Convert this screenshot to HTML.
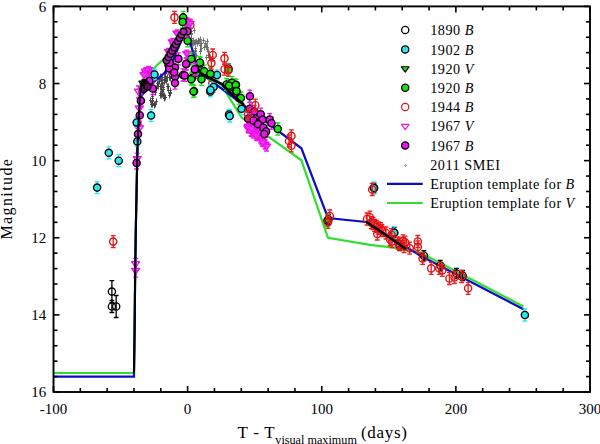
<!DOCTYPE html>
<html><head><meta charset="utf-8"><style>
html,body{margin:0;padding:0;background:#fff;}
svg{display:block;}
text{font-family:"Liberation Serif",serif;fill:#000;}
.t{font-size:15px;}
.ax{font-size:17px;}
.lg{font-size:14.2px;letter-spacing:0.55px;}
</style></head><body>
<svg width="600" height="444" viewBox="0 0 600 444">
<path d="M165.0 70.5h3.0M166.5 67.5v6.0" stroke="#404040" stroke-width="0.9"/>
<path d="M163.0 79.5h3.0M164.5 76.5v6.0" stroke="#404040" stroke-width="0.9"/>
<path d="M161.0 94.5h3.0M162.5 91.5v6.0" stroke="#404040" stroke-width="0.9"/>
<path d="M164.0 97.5h3.0M165.5 94.5v6.0" stroke="#404040" stroke-width="0.9"/>
<path d="M163.0 80.5h3.0M164.5 77.5v6.0" stroke="#404040" stroke-width="0.9"/>
<path d="M168.0 77.5h3.0M169.5 74.5v6.0" stroke="#404040" stroke-width="0.9"/>
<path d="M159.0 93.5h3.0M160.5 90.5v6.0" stroke="#404040" stroke-width="0.9"/>
<path d="M156.0 86.5h3.0M157.5 83.5v6.0" stroke="#404040" stroke-width="0.9"/>
<path d="M165.0 80.5h3.0M166.5 77.5v6.0" stroke="#404040" stroke-width="0.9"/>
<path d="M165.0 81.5h3.0M166.5 78.5v6.0" stroke="#404040" stroke-width="0.9"/>
<path d="M159.0 86.5h3.0M160.5 83.5v6.0" stroke="#404040" stroke-width="0.9"/>
<path d="M161.0 77.5h3.0M162.5 74.5v6.0" stroke="#404040" stroke-width="0.9"/>
<path d="M167.0 90.5h3.0M168.5 87.5v6.0" stroke="#404040" stroke-width="0.9"/>
<path d="M157.0 86.5h3.0M158.5 83.5v6.0" stroke="#404040" stroke-width="0.9"/>
<path d="M162.0 95.5h3.0M163.5 92.5v6.0" stroke="#404040" stroke-width="0.9"/>
<path d="M166.0 77.5h3.0M167.5 74.5v6.0" stroke="#404040" stroke-width="0.9"/>
<path d="M161.0 91.5h3.0M162.5 88.5v6.0" stroke="#404040" stroke-width="0.9"/>
<path d="M156.0 83.5h3.0M157.5 80.5v6.0" stroke="#404040" stroke-width="0.9"/>
<path d="M154.0 89.5h3.0M155.5 86.5v6.0" stroke="#404040" stroke-width="0.9"/>
<path d="M167.0 86.5h3.0M168.5 83.5v6.0" stroke="#404040" stroke-width="0.9"/>
<path d="M169.0 78.5h3.0M170.5 75.5v6.0" stroke="#404040" stroke-width="0.9"/>
<path d="M166.0 86.5h3.0M167.5 83.5v6.0" stroke="#404040" stroke-width="0.9"/>
<path d="M163.0 82.5h3.0M164.5 79.5v6.0" stroke="#404040" stroke-width="0.9"/>
<path d="M162.0 89.5h3.0M163.5 86.5v6.0" stroke="#404040" stroke-width="0.9"/>
<path d="M154.0 90.5h3.0M155.5 87.5v6.0" stroke="#404040" stroke-width="0.9"/>
<path d="M168.0 77.5h3.0M169.5 74.5v6.0" stroke="#404040" stroke-width="0.9"/>
<path d="M160.0 89.5h3.0M161.5 86.5v6.0" stroke="#404040" stroke-width="0.9"/>
<path d="M154.0 92.5h3.0M155.5 89.5v6.0" stroke="#404040" stroke-width="0.9"/>
<path d="M160.0 95.5h3.0M161.5 92.5v6.0" stroke="#404040" stroke-width="0.9"/>
<path d="M163.0 95.5h3.0M164.5 92.5v6.0" stroke="#404040" stroke-width="0.9"/>
<path d="M168.0 95.5h3.0M169.5 92.5v6.0" stroke="#404040" stroke-width="0.9"/>
<path d="M158.0 81.5h3.0M159.5 78.5v6.0" stroke="#404040" stroke-width="0.9"/>
<path d="M159.0 95.5h3.0M160.5 92.5v6.0" stroke="#404040" stroke-width="0.9"/>
<path d="M157.0 83.5h3.0M158.5 80.5v6.0" stroke="#404040" stroke-width="0.9"/>
<path d="M164.0 76.5h3.0M165.5 73.5v6.0" stroke="#404040" stroke-width="0.9"/>
<path d="M160.0 86.5h3.0M161.5 83.5v6.0" stroke="#404040" stroke-width="0.9"/>
<path d="M162.0 87.5h3.0M163.5 84.5v6.0" stroke="#404040" stroke-width="0.9"/>
<path d="M165.0 70.5h3.0M166.5 67.5v6.0" stroke="#404040" stroke-width="0.9"/>
<path d="M169.0 92.5h3.0M170.5 89.5v6.0" stroke="#404040" stroke-width="0.9"/>
<path d="M169.0 93.5h3.0M170.5 90.5v6.0" stroke="#404040" stroke-width="0.9"/>
<path d="M160.0 80.5h3.0M161.5 77.5v6.0" stroke="#404040" stroke-width="0.9"/>
<path d="M155.0 88.5h3.0M156.5 85.5v6.0" stroke="#404040" stroke-width="0.9"/>
<path d="M164.0 73.5h3.0M165.5 70.5v6.0" stroke="#404040" stroke-width="0.9"/>
<path d="M158.0 79.5h3.0M159.5 76.5v6.0" stroke="#404040" stroke-width="0.9"/>
<path d="M161.0 83.5h3.0M162.5 80.5v6.0" stroke="#404040" stroke-width="0.9"/>
<path d="M159.0 76.5h3.0M160.5 73.5v6.0" stroke="#404040" stroke-width="0.9"/>
<path d="M168.0 73.5h3.0M169.5 70.5v6.0" stroke="#404040" stroke-width="0.9"/>
<path d="M163.0 73.5h3.0M164.5 70.5v6.0" stroke="#404040" stroke-width="0.9"/>
<path d="M163.0 98.5h3.0M164.5 95.5v6.0" stroke="#404040" stroke-width="0.9"/>
<path d="M169.0 90.5h3.0M170.5 87.5v6.0" stroke="#404040" stroke-width="0.9"/>
<path d="M151.0 100.5h3.0M152.5 97.5v6.0" stroke="#404040" stroke-width="0.9"/>
<path d="M150.0 104.5h3.0M151.5 101.5v6.0" stroke="#404040" stroke-width="0.9"/>
<path d="M153.0 104.5h3.0M154.5 101.5v6.0" stroke="#404040" stroke-width="0.9"/>
<path d="M151.0 98.5h3.0M152.5 95.5v6.0" stroke="#404040" stroke-width="0.9"/>
<path d="M151.0 101.5h3.0M152.5 98.5v6.0" stroke="#404040" stroke-width="0.9"/>
<path d="M151.0 96.5h3.0M152.5 93.5v6.0" stroke="#404040" stroke-width="0.9"/>
<path d="M151.0 103.5h3.0M152.5 100.5v6.0" stroke="#404040" stroke-width="0.9"/>
<path d="M153.0 105.5h3.0M154.5 102.5v6.0" stroke="#404040" stroke-width="0.9"/>
<path d="M155.0 101.5h3.0M156.5 98.5v6.0" stroke="#404040" stroke-width="0.9"/>
<path d="M154.0 104.5h3.0M155.5 101.5v6.0" stroke="#404040" stroke-width="0.9"/>
<path d="M199.0 51.5h3.0M200.5 48.5v6.0" stroke="#6a6a6a" stroke-width="0.9"/>
<path d="M197.0 40.5h3.0M198.5 37.5v6.0" stroke="#6a6a6a" stroke-width="0.9"/>
<path d="M191.0 51.5h3.0M192.5 48.5v6.0" stroke="#6a6a6a" stroke-width="0.9"/>
<path d="M189.0 29.5h3.0M190.5 26.5v6.0" stroke="#6a6a6a" stroke-width="0.9"/>
<path d="M199.0 51.5h3.0M200.5 48.5v6.0" stroke="#6a6a6a" stroke-width="0.9"/>
<path d="M192.0 43.5h3.0M193.5 40.5v6.0" stroke="#6a6a6a" stroke-width="0.9"/>
<path d="M189.0 24.5h3.0M190.5 21.5v6.0" stroke="#6a6a6a" stroke-width="0.9"/>
<path d="M194.0 56.5h3.0M195.5 53.5v6.0" stroke="#6a6a6a" stroke-width="0.9"/>
<path d="M193.0 54.5h3.0M194.5 51.5v6.0" stroke="#6a6a6a" stroke-width="0.9"/>
<path d="M190.0 34.5h3.0M191.5 31.5v6.0" stroke="#6a6a6a" stroke-width="0.9"/>
<path d="M190.0 44.5h3.0M191.5 41.5v6.0" stroke="#6a6a6a" stroke-width="0.9"/>
<path d="M190.0 38.5h3.0M191.5 35.5v6.0" stroke="#6a6a6a" stroke-width="0.9"/>
<path d="M192.0 40.5h3.0M193.5 37.5v6.0" stroke="#6a6a6a" stroke-width="0.9"/>
<path d="M195.0 55.5h3.0M196.5 52.5v6.0" stroke="#6a6a6a" stroke-width="0.9"/>
<path d="M192.0 55.5h3.0M193.5 52.5v6.0" stroke="#6a6a6a" stroke-width="0.9"/>
<path d="M194.0 42.5h3.0M195.5 39.5v6.0" stroke="#6a6a6a" stroke-width="0.9"/>
<path d="M193.0 30.5h3.0M194.5 27.5v6.0" stroke="#6a6a6a" stroke-width="0.9"/>
<path d="M189.0 40.5h3.0M190.5 37.5v6.0" stroke="#6a6a6a" stroke-width="0.9"/>
<path d="M196.0 43.5h3.0M197.5 40.5v6.0" stroke="#6a6a6a" stroke-width="0.9"/>
<path d="M191.0 42.5h3.0M192.5 39.5v6.0" stroke="#6a6a6a" stroke-width="0.9"/>
<path d="M194.0 51.5h3.0M195.5 48.5v6.0" stroke="#6a6a6a" stroke-width="0.9"/>
<path d="M188.0 43.5h3.0M189.5 40.5v6.0" stroke="#6a6a6a" stroke-width="0.9"/>
<path d="M190.0 33.5h3.0M191.5 30.5v6.0" stroke="#6a6a6a" stroke-width="0.9"/>
<path d="M197.0 41.5h3.0M198.5 38.5v6.0" stroke="#6a6a6a" stroke-width="0.9"/>
<path d="M194.0 50.5h3.0M195.5 47.5v6.0" stroke="#6a6a6a" stroke-width="0.9"/>
<path d="M199.0 39.5h3.0M200.5 36.5v6.0" stroke="#6a6a6a" stroke-width="0.9"/>
<path d="M195.0 41.5h3.0M196.5 38.5v6.0" stroke="#6a6a6a" stroke-width="0.9"/>
<path d="M194.0 48.5h3.0M195.5 45.5v6.0" stroke="#6a6a6a" stroke-width="0.9"/>
<path d="M193.0 42.5h3.0M194.5 39.5v6.0" stroke="#6a6a6a" stroke-width="0.9"/>
<path d="M193.0 56.5h3.0M194.5 53.5v6.0" stroke="#6a6a6a" stroke-width="0.9"/>
<path d="M207.0 55.5h3.0M208.5 52.5v6.0" stroke="#6a6a6a" stroke-width="0.9"/>
<path d="M205.0 57.5h3.0M206.5 54.5v6.0" stroke="#6a6a6a" stroke-width="0.9"/>
<path d="M198.0 41.5h3.0M199.5 38.5v6.0" stroke="#6a6a6a" stroke-width="0.9"/>
<path d="M208.0 56.5h3.0M209.5 53.5v6.0" stroke="#6a6a6a" stroke-width="0.9"/>
<path d="M209.0 57.5h3.0M210.5 54.5v6.0" stroke="#6a6a6a" stroke-width="0.9"/>
<path d="M203.0 47.5h3.0M204.5 44.5v6.0" stroke="#6a6a6a" stroke-width="0.9"/>
<path d="M199.0 45.5h3.0M200.5 42.5v6.0" stroke="#6a6a6a" stroke-width="0.9"/>
<path d="M204.0 43.5h3.0M205.5 40.5v6.0" stroke="#6a6a6a" stroke-width="0.9"/>
<path d="M200.0 43.5h3.0M201.5 40.5v6.0" stroke="#6a6a6a" stroke-width="0.9"/>
<path d="M205.0 46.5h3.0M206.5 43.5v6.0" stroke="#6a6a6a" stroke-width="0.9"/>
<path d="M206.0 47.5h3.0M207.5 44.5v6.0" stroke="#6a6a6a" stroke-width="0.9"/>
<path d="M208.0 57.5h3.0M209.5 54.5v6.0" stroke="#6a6a6a" stroke-width="0.9"/>
<path d="M202.0 40.5h3.0M203.5 37.5v6.0" stroke="#6a6a6a" stroke-width="0.9"/>
<path d="M206.0 41.5h3.0M207.5 38.5v6.0" stroke="#6a6a6a" stroke-width="0.9"/>
<path d="M200.0 48.5h3.0M201.5 45.5v6.0" stroke="#6a6a6a" stroke-width="0.9"/>
<path d="M206.0 49.5h3.0M207.5 46.5v6.0" stroke="#6a6a6a" stroke-width="0.9"/>
<path d="M207.0 51.5h3.0M208.5 48.5v6.0" stroke="#6a6a6a" stroke-width="0.9"/>
<path d="M151.0 104.5h3.0M152.5 101.5v6.0" stroke="#404040" stroke-width="0.9"/>
<path d="M149.0 100.5h3.0M150.5 97.5v6.0" stroke="#404040" stroke-width="0.9"/>
<polyline points="53.5,373.0 134.0,373.0 134.0,373.0 134.6,330.0 135.2,270.0 135.8,230.0 136.6,190.0 137.4,150.0 138.3,128.0 139.2,110.0 139.8,100.0 140.6,82.0 152.5,69.5 168.0,55.0 185.0,26.4 196.5,63.0 222.0,85.8 241.5,117.5 301.4,160.3 328.0,237.8 370.0,244.8 396.0,247.8 420.0,252.5 523.5,306.5" fill="none" stroke="#30e030" stroke-width="2.2" stroke-linejoin="miter" />
<polyline points="53.5,376.6 134.0,376.6 134.0,373.0 134.6,330.0 135.2,270.0 135.8,230.0 136.6,190.0 137.4,150.0 138.3,128.0 139.2,110.0 140.5,100.0 142.0,95.0 154.5,81.5 169.5,68.5 186.5,28.2 198.0,71.0 301.4,148.3 328.0,218.0 366.0,222.0 420.0,255.5 524.0,309.6" fill="none" stroke="#0c0cc8" stroke-width="2.2" stroke-linejoin="miter" />
<path d="M190.3 19.3V31.3M187.9 19.3h4.8M187.9 31.3h4.8" stroke="#f01c1c" stroke-width="1.3" fill="none"/>
<circle cx="190.3" cy="25.3" r="3.6" fill="none" stroke="#dc1414" stroke-width="1.4"/>
<path d="M212.3 77.4V89.4M209.9 77.4h4.8M209.9 89.4h4.8" stroke="#f01c1c" stroke-width="1.3" fill="none"/>
<circle cx="212.3" cy="83.4" r="3.6" fill="none" stroke="#dc1414" stroke-width="1.4"/>
<path d="M135.6 258.4V270.4M133.2 258.4h4.8M133.2 270.4h4.8" stroke="#ec14ec" stroke-width="1.3" fill="none"/>
<path d="M131.6 261.7H139.6L135.6 267.2Z" fill="none" stroke="#ec14ec" stroke-width="1.4" stroke-linejoin="round"/>
<path d="M135.6 265.2V277.2M133.2 265.2h4.8M133.2 277.2h4.8" stroke="#ec14ec" stroke-width="1.3" fill="none"/>
<path d="M131.6 268.5H139.6L135.6 274.0Z" fill="none" stroke="#ec14ec" stroke-width="1.4" stroke-linejoin="round"/>
<path d="M137.2 153.4V165.4M134.8 153.4h4.8M134.8 165.4h4.8" stroke="#ec14ec" stroke-width="1.3" fill="none"/>
<path d="M133.2 156.7H141.2L137.2 162.2Z" fill="none" stroke="#ec14ec" stroke-width="1.4" stroke-linejoin="round"/>
<path d="M137.6 121.0V133.0M135.2 121.0h4.8M135.2 133.0h4.8" stroke="#ec14ec" stroke-width="1.3" fill="none"/>
<path d="M133.6 124.3H141.6L137.6 129.8Z" fill="none" stroke="#ec14ec" stroke-width="1.4" stroke-linejoin="round"/>
<path d="M139.4 122.7V134.7M137.0 122.7h4.8M137.0 134.7h4.8" stroke="#ec14ec" stroke-width="1.3" fill="none"/>
<path d="M135.4 126.0H143.4L139.4 131.5Z" fill="none" stroke="#ec14ec" stroke-width="1.4" stroke-linejoin="round"/>
<path d="M139.3 102.7V114.7M136.9 102.7h4.8M136.9 114.7h4.8" stroke="#ec14ec" stroke-width="1.3" fill="none"/>
<path d="M135.3 106.0H143.3L139.3 111.5Z" fill="none" stroke="#ec14ec" stroke-width="1.4" stroke-linejoin="round"/>
<path d="M138.4 86.0V98.0M136.0 86.0h4.8M136.0 98.0h4.8" stroke="#ec14ec" stroke-width="1.3" fill="none"/>
<path d="M134.4 89.3H142.4L138.4 94.8Z" fill="none" stroke="#ec14ec" stroke-width="1.4" stroke-linejoin="round"/>
<path d="M145.5 68.0V76.0M143.1 68.0h4.8M143.1 76.0h4.8" stroke="#ec14ec" stroke-width="1.3" fill="none"/>
<path d="M141.5 69.3H149.5L145.5 74.8Z" fill="#ee3cee" stroke="#ec14ec" stroke-width="1.4" stroke-linejoin="round"/>
<path d="M148.5 66.5V74.5M146.1 66.5h4.8M146.1 74.5h4.8" stroke="#ec14ec" stroke-width="1.3" fill="none"/>
<path d="M144.5 67.8H152.5L148.5 73.3Z" fill="#ee3cee" stroke="#ec14ec" stroke-width="1.4" stroke-linejoin="round"/>
<path d="M151.5 69.5V77.5M149.1 69.5h4.8M149.1 77.5h4.8" stroke="#ec14ec" stroke-width="1.3" fill="none"/>
<path d="M147.5 70.8H155.5L151.5 76.3Z" fill="#ee3cee" stroke="#ec14ec" stroke-width="1.4" stroke-linejoin="round"/>
<path d="M147.0 72.0V80.0M144.6 72.0h4.8M144.6 80.0h4.8" stroke="#ec14ec" stroke-width="1.3" fill="none"/>
<path d="M143.0 73.3H151.0L147.0 78.8Z" fill="#ee3cee" stroke="#ec14ec" stroke-width="1.4" stroke-linejoin="round"/>
<path d="M144.0 71.5V79.5M141.6 71.5h4.8M141.6 79.5h4.8" stroke="#ec14ec" stroke-width="1.3" fill="none"/>
<path d="M140.0 72.8H148.0L144.0 78.3Z" fill="#ee3cee" stroke="#ec14ec" stroke-width="1.4" stroke-linejoin="round"/>
<path d="M177.0 30.0V38.0M174.6 30.0h4.8M174.6 38.0h4.8" stroke="#ec14ec" stroke-width="1.3" fill="none"/>
<path d="M173.0 31.3H181.0L177.0 36.8Z" fill="#ee3cee" stroke="#ec14ec" stroke-width="1.4" stroke-linejoin="round"/>
<path d="M172.2 38.6V46.6M169.8 38.6h4.8M169.8 46.6h4.8" stroke="#ec14ec" stroke-width="1.3" fill="none"/>
<path d="M168.2 39.9H176.2L172.2 45.4Z" fill="#ee3cee" stroke="#ec14ec" stroke-width="1.4" stroke-linejoin="round"/>
<path d="M174.0 42.5V50.5M171.6 42.5h4.8M171.6 50.5h4.8" stroke="#ec14ec" stroke-width="1.3" fill="none"/>
<path d="M170.0 43.8H178.0L174.0 49.3Z" fill="#ee3cee" stroke="#ec14ec" stroke-width="1.4" stroke-linejoin="round"/>
<path d="M168.5 48.3V56.3M166.1 48.3h4.8M166.1 56.3h4.8" stroke="#ec14ec" stroke-width="1.3" fill="none"/>
<path d="M164.5 49.6H172.5L168.5 55.1Z" fill="#ee3cee" stroke="#ec14ec" stroke-width="1.4" stroke-linejoin="round"/>
<path d="M186.8 50.2V58.2M184.4 50.2h4.8M184.4 58.2h4.8" stroke="#ec14ec" stroke-width="1.3" fill="none"/>
<path d="M182.8 51.5H190.8L186.8 57.0Z" fill="#ee3cee" stroke="#ec14ec" stroke-width="1.4" stroke-linejoin="round"/>
<path d="M187.0 18.0V26.0M184.6 18.0h4.8M184.6 26.0h4.8" stroke="#ec14ec" stroke-width="1.3" fill="none"/>
<path d="M183.0 19.3H191.0L187.0 24.8Z" fill="#ee3cee" stroke="#ec14ec" stroke-width="1.4" stroke-linejoin="round"/>
<path d="M190.0 20.0V28.0M187.6 20.0h4.8M187.6 28.0h4.8" stroke="#ec14ec" stroke-width="1.3" fill="none"/>
<path d="M186.0 21.3H194.0L190.0 26.8Z" fill="#ee3cee" stroke="#ec14ec" stroke-width="1.4" stroke-linejoin="round"/>
<path d="M249.3 124.2V132.2M246.9 124.2h4.8M246.9 132.2h4.8" stroke="#ec14ec" stroke-width="1.3" fill="none"/>
<path d="M245.3 125.5H253.3L249.3 131.0Z" fill="#ee3cee" stroke="#ec14ec" stroke-width="1.4" stroke-linejoin="round"/>
<path d="M250.6 120.5V128.5M248.2 120.5h4.8M248.2 128.5h4.8" stroke="#ec14ec" stroke-width="1.3" fill="none"/>
<path d="M246.6 121.7H254.6L250.6 127.3Z" fill="#ee3cee" stroke="#ec14ec" stroke-width="1.4" stroke-linejoin="round"/>
<path d="M251.8 128.0V136.0M249.4 128.0h4.8M249.4 136.0h4.8" stroke="#ec14ec" stroke-width="1.3" fill="none"/>
<path d="M247.8 129.3H255.8L251.8 134.8Z" fill="#ee3cee" stroke="#ec14ec" stroke-width="1.4" stroke-linejoin="round"/>
<path d="M257.7 127.9V135.9M255.3 127.9h4.8M255.3 135.9h4.8" stroke="#ec14ec" stroke-width="1.3" fill="none"/>
<path d="M253.7 129.1H261.7L257.7 134.7Z" fill="#ee3cee" stroke="#ec14ec" stroke-width="1.4" stroke-linejoin="round"/>
<path d="M262.5 138.1V146.1M260.1 138.1h4.8M260.1 146.1h4.8" stroke="#ec14ec" stroke-width="1.3" fill="none"/>
<path d="M258.5 139.4H266.5L262.5 144.9Z" fill="#ee3cee" stroke="#ec14ec" stroke-width="1.4" stroke-linejoin="round"/>
<path d="M253.1 122.1V130.1M250.7 122.1h4.8M250.7 130.1h4.8" stroke="#ec14ec" stroke-width="1.3" fill="none"/>
<path d="M249.1 123.4H257.1L253.1 128.9Z" fill="#ee3cee" stroke="#ec14ec" stroke-width="1.4" stroke-linejoin="round"/>
<path d="M259.5 131.7V139.7M257.1 131.7h4.8M257.1 139.7h4.8" stroke="#ec14ec" stroke-width="1.3" fill="none"/>
<path d="M255.5 133.0H263.5L259.5 138.5Z" fill="#ee3cee" stroke="#ec14ec" stroke-width="1.4" stroke-linejoin="round"/>
<path d="M248.0 124.9V132.9M245.6 124.9h4.8M245.6 132.9h4.8" stroke="#ec14ec" stroke-width="1.3" fill="none"/>
<path d="M244.0 126.1H252.0L248.0 131.7Z" fill="#ee3cee" stroke="#ec14ec" stroke-width="1.4" stroke-linejoin="round"/>
<path d="M260.6 135.0V143.0M258.2 135.0h4.8M258.2 143.0h4.8" stroke="#ec14ec" stroke-width="1.3" fill="none"/>
<path d="M256.6 136.3H264.6L260.6 141.8Z" fill="#ee3cee" stroke="#ec14ec" stroke-width="1.4" stroke-linejoin="round"/>
<path d="M251.9 120.4V128.4M249.5 120.4h4.8M249.5 128.4h4.8" stroke="#ec14ec" stroke-width="1.3" fill="none"/>
<path d="M247.9 121.7H255.9L251.9 127.2Z" fill="#ee3cee" stroke="#ec14ec" stroke-width="1.4" stroke-linejoin="round"/>
<path d="M260.9 132.7V140.7M258.5 132.7h4.8M258.5 140.7h4.8" stroke="#ec14ec" stroke-width="1.3" fill="none"/>
<path d="M256.9 134.0H264.9L260.9 139.5Z" fill="#ee3cee" stroke="#ec14ec" stroke-width="1.4" stroke-linejoin="round"/>
<path d="M251.7 121.0V129.0M249.3 121.0h4.8M249.3 129.0h4.8" stroke="#ec14ec" stroke-width="1.3" fill="none"/>
<path d="M247.7 122.3H255.7L251.7 127.8Z" fill="#ee3cee" stroke="#ec14ec" stroke-width="1.4" stroke-linejoin="round"/>
<path d="M251.4 120.6V128.6M249.0 120.6h4.8M249.0 128.6h4.8" stroke="#ec14ec" stroke-width="1.3" fill="none"/>
<path d="M247.4 121.9H255.4L251.4 127.4Z" fill="#ee3cee" stroke="#ec14ec" stroke-width="1.4" stroke-linejoin="round"/>
<path d="M256.1 130.7V138.7M253.7 130.7h4.8M253.7 138.7h4.8" stroke="#ec14ec" stroke-width="1.3" fill="none"/>
<path d="M252.1 132.0H260.1L256.1 137.5Z" fill="#ee3cee" stroke="#ec14ec" stroke-width="1.4" stroke-linejoin="round"/>
<path d="M260.0 130.5V138.5M257.6 130.5h4.8M257.6 138.5h4.8" stroke="#ec14ec" stroke-width="1.3" fill="none"/>
<path d="M256.0 131.8H264.0L260.0 137.3Z" fill="#ee3cee" stroke="#ec14ec" stroke-width="1.4" stroke-linejoin="round"/>
<path d="M251.7 127.9V135.9M249.3 127.9h4.8M249.3 135.9h4.8" stroke="#ec14ec" stroke-width="1.3" fill="none"/>
<path d="M247.7 129.2H255.7L251.7 134.7Z" fill="#ee3cee" stroke="#ec14ec" stroke-width="1.4" stroke-linejoin="round"/>
<path d="M257.0 132.5V140.5M254.6 132.5h4.8M254.6 140.5h4.8" stroke="#ec14ec" stroke-width="1.3" fill="none"/>
<path d="M253.0 133.8H261.0L257.0 139.3Z" fill="#ee3cee" stroke="#ec14ec" stroke-width="1.4" stroke-linejoin="round"/>
<path d="M248.9 124.8V132.8M246.5 124.8h4.8M246.5 132.8h4.8" stroke="#ec14ec" stroke-width="1.3" fill="none"/>
<path d="M244.9 126.0H252.9L248.9 131.6Z" fill="#ee3cee" stroke="#ec14ec" stroke-width="1.4" stroke-linejoin="round"/>
<path d="M248.0 123.4V131.4M245.6 123.4h4.8M245.6 131.4h4.8" stroke="#ec14ec" stroke-width="1.3" fill="none"/>
<path d="M244.0 124.7H252.0L248.0 130.2Z" fill="#ee3cee" stroke="#ec14ec" stroke-width="1.4" stroke-linejoin="round"/>
<path d="M253.3 128.0V136.0M250.9 128.0h4.8M250.9 136.0h4.8" stroke="#ec14ec" stroke-width="1.3" fill="none"/>
<path d="M249.3 129.3H257.3L253.3 134.8Z" fill="#ee3cee" stroke="#ec14ec" stroke-width="1.4" stroke-linejoin="round"/>
<path d="M261.5 136.8V144.8M259.1 136.8h4.8M259.1 144.8h4.8" stroke="#ec14ec" stroke-width="1.3" fill="none"/>
<path d="M257.5 138.1H265.5L261.5 143.6Z" fill="#ee3cee" stroke="#ec14ec" stroke-width="1.4" stroke-linejoin="round"/>
<path d="M256.3 132.2V140.2M253.9 132.2h4.8M253.9 140.2h4.8" stroke="#ec14ec" stroke-width="1.3" fill="none"/>
<path d="M252.3 133.5H260.3L256.3 139.0Z" fill="#ee3cee" stroke="#ec14ec" stroke-width="1.4" stroke-linejoin="round"/>
<path d="M252.8 129.9V137.9M250.4 129.9h4.8M250.4 137.9h4.8" stroke="#ec14ec" stroke-width="1.3" fill="none"/>
<path d="M248.8 131.2H256.8L252.8 136.7Z" fill="#ee3cee" stroke="#ec14ec" stroke-width="1.4" stroke-linejoin="round"/>
<path d="M250.9 128.1V136.1M248.5 128.1h4.8M248.5 136.1h4.8" stroke="#ec14ec" stroke-width="1.3" fill="none"/>
<path d="M246.9 129.4H254.9L250.9 134.9Z" fill="#ee3cee" stroke="#ec14ec" stroke-width="1.4" stroke-linejoin="round"/>
<path d="M261.9 135.5V143.5M259.5 135.5h4.8M259.5 143.5h4.8" stroke="#ec14ec" stroke-width="1.3" fill="none"/>
<path d="M257.9 136.8H265.9L261.9 142.3Z" fill="#ee3cee" stroke="#ec14ec" stroke-width="1.4" stroke-linejoin="round"/>
<path d="M251.8 124.9V132.9M249.4 124.9h4.8M249.4 132.9h4.8" stroke="#ec14ec" stroke-width="1.3" fill="none"/>
<path d="M247.8 126.2H255.8L251.8 131.7Z" fill="#ee3cee" stroke="#ec14ec" stroke-width="1.4" stroke-linejoin="round"/>
<path d="M265.0 141.0V149.0M262.6 141.0h4.8M262.6 149.0h4.8" stroke="#ec14ec" stroke-width="1.3" fill="none"/>
<path d="M261.0 142.3H269.0L265.0 147.8Z" fill="#ee3cee" stroke="#ec14ec" stroke-width="1.4" stroke-linejoin="round"/>
<path d="M266.5 143.0V151.0M264.1 143.0h4.8M264.1 151.0h4.8" stroke="#ec14ec" stroke-width="1.3" fill="none"/>
<path d="M262.5 144.3H270.5L266.5 149.8Z" fill="#ee3cee" stroke="#ec14ec" stroke-width="1.4" stroke-linejoin="round"/>
<path d="M263.0 138.5V146.5M260.6 138.5h4.8M260.6 146.5h4.8" stroke="#ec14ec" stroke-width="1.3" fill="none"/>
<path d="M259.0 139.8H267.0L263.0 145.3Z" fill="#ee3cee" stroke="#ec14ec" stroke-width="1.4" stroke-linejoin="round"/>
<path d="M328.5 214.5V224.5M326.1 214.5h4.8M326.1 224.5h4.8" stroke="#000" stroke-width="1.3" fill="none"/>
<path d="M111.9 280.6V302.6M109.5 280.6h4.8M109.5 302.6h4.8" stroke="#000" stroke-width="1.3" fill="none"/>
<path d="M111.9 300.5V312.5M109.5 300.5h4.8M109.5 312.5h4.8" stroke="#000" stroke-width="1.3" fill="none"/>
<path d="M116.2 295.5V317.5M113.8 295.5h4.8M113.8 317.5h4.8" stroke="#000" stroke-width="1.3" fill="none"/>
<path d="M374.0 183.0V193.0M371.6 183.0h4.8M371.6 193.0h4.8" stroke="#000" stroke-width="1.3" fill="none"/>
<path d="M394.2 227.7V237.7M391.8 227.7h4.8M391.8 237.7h4.8" stroke="#000" stroke-width="1.3" fill="none"/>
<path d="M399.6 240.5V250.5M397.2 240.5h4.8M397.2 250.5h4.8" stroke="#000" stroke-width="1.3" fill="none"/>
<path d="M423.9 250.7V260.7M421.5 250.7h4.8M421.5 260.7h4.8" stroke="#000" stroke-width="1.3" fill="none"/>
<path d="M440.3 260.4V270.4M437.9 260.4h4.8M437.9 270.4h4.8" stroke="#000" stroke-width="1.3" fill="none"/>
<path d="M456.5 268.5V278.5M454.1 268.5h4.8M454.1 278.5h4.8" stroke="#000" stroke-width="1.3" fill="none"/>
<path d="M462.6 270.5V280.5M460.2 270.5h4.8M460.2 280.5h4.8" stroke="#000" stroke-width="1.3" fill="none"/>
<path d="M97.1 181.6V193.6M94.7 181.6h4.8M94.7 193.6h4.8" stroke="#2ae8f0" stroke-width="1.3" fill="none"/>
<path d="M108.8 146.8V158.8M106.4 146.8h4.8M106.4 158.8h4.8" stroke="#2ae8f0" stroke-width="1.3" fill="none"/>
<path d="M118.7 154.7V166.7M116.3 154.7h4.8M116.3 166.7h4.8" stroke="#2ae8f0" stroke-width="1.3" fill="none"/>
<path d="M136.7 117.4V127.4M134.3 117.4h4.8M134.3 127.4h4.8" stroke="#2ae8f0" stroke-width="1.3" fill="none"/>
<path d="M137.3 136.4V146.4M134.9 136.4h4.8M134.9 146.4h4.8" stroke="#2ae8f0" stroke-width="1.3" fill="none"/>
<path d="M151.1 109.5V121.5M148.7 109.5h4.8M148.7 121.5h4.8" stroke="#2ae8f0" stroke-width="1.3" fill="none"/>
<path d="M154.5 69.5V79.5M152.1 69.5h4.8M152.1 79.5h4.8" stroke="#2ae8f0" stroke-width="1.3" fill="none"/>
<path d="M217.0 70.0V80.0M214.6 70.0h4.8M214.6 80.0h4.8" stroke="#2ae8f0" stroke-width="1.3" fill="none"/>
<path d="M213.6 82.0V92.0M211.2 82.0h4.8M211.2 92.0h4.8" stroke="#2ae8f0" stroke-width="1.3" fill="none"/>
<path d="M210.3 86.5V96.5M207.9 86.5h4.8M207.9 96.5h4.8" stroke="#2ae8f0" stroke-width="1.3" fill="none"/>
<path d="M236.0 79.7V89.7M233.6 79.7h4.8M233.6 89.7h4.8" stroke="#2ae8f0" stroke-width="1.3" fill="none"/>
<path d="M229.0 109.5V119.5M226.6 109.5h4.8M226.6 119.5h4.8" stroke="#2ae8f0" stroke-width="1.3" fill="none"/>
<path d="M229.7 110.0V122.0M227.3 110.0h4.8M227.3 122.0h4.8" stroke="#2ae8f0" stroke-width="1.3" fill="none"/>
<path d="M241.5 102.8V114.8M239.1 102.8h4.8M239.1 114.8h4.8" stroke="#2ae8f0" stroke-width="1.3" fill="none"/>
<path d="M210.4 85.0V95.0M208.0 85.0h4.8M208.0 95.0h4.8" stroke="#2ae8f0" stroke-width="1.3" fill="none"/>
<path d="M228.5 63.5V73.5M226.1 63.5h4.8M226.1 73.5h4.8" stroke="#2ae8f0" stroke-width="1.3" fill="none"/>
<path d="M374.0 182.0V194.0M371.6 182.0h4.8M371.6 194.0h4.8" stroke="#2ae8f0" stroke-width="1.3" fill="none"/>
<path d="M394.2 226.7V238.7M391.8 226.7h4.8M391.8 238.7h4.8" stroke="#2ae8f0" stroke-width="1.3" fill="none"/>
<path d="M524.9 309.0V321.0M522.5 309.0h4.8M522.5 321.0h4.8" stroke="#2ae8f0" stroke-width="1.3" fill="none"/>
<circle cx="97.1" cy="187.6" r="3.6" fill="#2ae8f0" stroke="#000" stroke-width="1.35"/>
<circle cx="108.8" cy="152.8" r="3.6" fill="#2ae8f0" stroke="#000" stroke-width="1.35"/>
<circle cx="118.7" cy="160.7" r="3.6" fill="#2ae8f0" stroke="#000" stroke-width="1.35"/>
<circle cx="136.7" cy="122.4" r="3.6" fill="#2ae8f0" stroke="#000" stroke-width="1.35"/>
<circle cx="137.3" cy="141.4" r="3.6" fill="#2ae8f0" stroke="#000" stroke-width="1.35"/>
<circle cx="151.1" cy="115.5" r="3.6" fill="#2ae8f0" stroke="#000" stroke-width="1.35"/>
<circle cx="154.5" cy="74.5" r="3.6" fill="#2ae8f0" stroke="#000" stroke-width="1.35"/>
<circle cx="217.0" cy="75.0" r="3.6" fill="#2ae8f0" stroke="#000" stroke-width="1.35"/>
<circle cx="213.6" cy="87.0" r="3.6" fill="#2ae8f0" stroke="#000" stroke-width="1.35"/>
<circle cx="210.3" cy="91.5" r="3.6" fill="#2ae8f0" stroke="#000" stroke-width="1.35"/>
<circle cx="236.0" cy="84.7" r="3.6" fill="#2ae8f0" stroke="#000" stroke-width="1.35"/>
<circle cx="229.0" cy="114.5" r="3.6" fill="#2ae8f0" stroke="#000" stroke-width="1.35"/>
<circle cx="229.7" cy="116.0" r="3.6" fill="#2ae8f0" stroke="#000" stroke-width="1.35"/>
<circle cx="241.5" cy="108.8" r="3.6" fill="#2ae8f0" stroke="#000" stroke-width="1.35"/>
<circle cx="210.4" cy="90.0" r="3.6" fill="#2ae8f0" stroke="#000" stroke-width="1.35"/>
<circle cx="228.5" cy="68.5" r="3.6" fill="#2ae8f0" stroke="#000" stroke-width="1.35"/>
<circle cx="374.0" cy="188.0" r="3.6" fill="#2ae8f0" stroke="#000" stroke-width="1.35"/>
<circle cx="394.2" cy="232.7" r="3.6" fill="#2ae8f0" stroke="#000" stroke-width="1.35"/>
<circle cx="524.9" cy="315.0" r="3.6" fill="#2ae8f0" stroke="#000" stroke-width="1.35"/>
<path d="M183.2 11.4V23.4M180.8 11.4h4.8M180.8 23.4h4.8" stroke="#14e014" stroke-width="1.3" fill="none"/>
<path d="M182.6 15.9V27.9M180.2 15.9h4.8M180.2 27.9h4.8" stroke="#14e014" stroke-width="1.3" fill="none"/>
<path d="M187.6 34.8V46.8M185.2 34.8h4.8M185.2 46.8h4.8" stroke="#14e014" stroke-width="1.3" fill="none"/>
<path d="M191.2 52.9V64.9M188.8 52.9h4.8M188.8 64.9h4.8" stroke="#14e014" stroke-width="1.3" fill="none"/>
<path d="M200.1 57.4V69.4M197.7 57.4h4.8M197.7 69.4h4.8" stroke="#14e014" stroke-width="1.3" fill="none"/>
<path d="M199.9 56.4V68.4M197.5 56.4h4.8M197.5 68.4h4.8" stroke="#14e014" stroke-width="1.3" fill="none"/>
<path d="M204.2 65.2V77.2M201.8 65.2h4.8M201.8 77.2h4.8" stroke="#14e014" stroke-width="1.3" fill="none"/>
<path d="M210.3 67.9V79.9M207.9 67.9h4.8M207.9 79.9h4.8" stroke="#14e014" stroke-width="1.3" fill="none"/>
<path d="M192.0 72.0V84.0M189.6 72.0h4.8M189.6 84.0h4.8" stroke="#14e014" stroke-width="1.3" fill="none"/>
<path d="M201.5 73.3V85.3M199.1 73.3h4.8M199.1 85.3h4.8" stroke="#14e014" stroke-width="1.3" fill="none"/>
<path d="M191.2 73.2V85.2M188.8 73.2h4.8M188.8 85.2h4.8" stroke="#14e014" stroke-width="1.3" fill="none"/>
<path d="M194.0 85.2V97.2M191.6 85.2h4.8M191.6 97.2h4.8" stroke="#14e014" stroke-width="1.3" fill="none"/>
<path d="M193.5 85.4V97.4M191.1 85.4h4.8M191.1 97.4h4.8" stroke="#14e014" stroke-width="1.3" fill="none"/>
<path d="M196.9 66.4V78.4M194.5 66.4h4.8M194.5 78.4h4.8" stroke="#14e014" stroke-width="1.3" fill="none"/>
<path d="M210.4 67.8V79.8M208.0 67.8h4.8M208.0 79.8h4.8" stroke="#14e014" stroke-width="1.3" fill="none"/>
<path d="M226.5 78.5V90.5M224.1 78.5h4.8M224.1 90.5h4.8" stroke="#14e014" stroke-width="1.3" fill="none"/>
<path d="M231.9 76.7V88.7M229.5 76.7h4.8M229.5 88.7h4.8" stroke="#14e014" stroke-width="1.3" fill="none"/>
<path d="M231.9 80.8V92.8M229.5 80.8h4.8M229.5 92.8h4.8" stroke="#14e014" stroke-width="1.3" fill="none"/>
<path d="M229.0 79.7V91.7M226.6 79.7h4.8M226.6 91.7h4.8" stroke="#14e014" stroke-width="1.3" fill="none"/>
<path d="M236.0 84.8V96.8M233.6 84.8h4.8M233.6 96.8h4.8" stroke="#14e014" stroke-width="1.3" fill="none"/>
<path d="M239.3 92.2V104.2M236.9 92.2h4.8M236.9 104.2h4.8" stroke="#14e014" stroke-width="1.3" fill="none"/>
<path d="M228.4 64.1V76.1M226.0 64.1h4.8M226.0 76.1h4.8" stroke="#14e014" stroke-width="1.3" fill="none"/>
<path d="M235.8 79.0V91.0M233.4 79.0h4.8M233.4 91.0h4.8" stroke="#14e014" stroke-width="1.3" fill="none"/>
<path d="M236.5 85.1V97.1M234.1 85.1h4.8M234.1 97.1h4.8" stroke="#14e014" stroke-width="1.3" fill="none"/>
<path d="M240.9 92.0V104.0M238.5 92.0h4.8M238.5 104.0h4.8" stroke="#14e014" stroke-width="1.3" fill="none"/>
<path d="M277.8 123.0V135.0M275.4 123.0h4.8M275.4 135.0h4.8" stroke="#14e014" stroke-width="1.3" fill="none"/>
<path d="M327.5 214.5V226.5M325.1 214.5h4.8M325.1 226.5h4.8" stroke="#14e014" stroke-width="1.3" fill="none"/>
<circle cx="183.2" cy="17.4" r="3.6" fill="#14e014" stroke="#000" stroke-width="1.35"/>
<circle cx="182.6" cy="21.9" r="3.6" fill="#14e014" stroke="#000" stroke-width="1.35"/>
<circle cx="187.6" cy="40.8" r="3.6" fill="#14e014" stroke="#000" stroke-width="1.35"/>
<circle cx="191.2" cy="58.9" r="3.6" fill="#14e014" stroke="#000" stroke-width="1.35"/>
<circle cx="200.1" cy="63.4" r="3.6" fill="#14e014" stroke="#000" stroke-width="1.35"/>
<circle cx="199.9" cy="62.4" r="3.6" fill="#14e014" stroke="#000" stroke-width="1.35"/>
<circle cx="204.2" cy="71.2" r="3.6" fill="#14e014" stroke="#000" stroke-width="1.35"/>
<circle cx="210.3" cy="73.9" r="3.6" fill="#14e014" stroke="#000" stroke-width="1.35"/>
<circle cx="192.0" cy="78.0" r="3.6" fill="#14e014" stroke="#000" stroke-width="1.35"/>
<circle cx="201.5" cy="79.3" r="3.6" fill="#14e014" stroke="#000" stroke-width="1.35"/>
<circle cx="191.2" cy="79.2" r="3.6" fill="#14e014" stroke="#000" stroke-width="1.35"/>
<circle cx="194.0" cy="91.2" r="3.6" fill="#14e014" stroke="#000" stroke-width="1.35"/>
<circle cx="193.5" cy="91.4" r="3.6" fill="#14e014" stroke="#000" stroke-width="1.35"/>
<circle cx="196.9" cy="72.4" r="3.6" fill="#14e014" stroke="#000" stroke-width="1.35"/>
<circle cx="210.4" cy="73.8" r="3.6" fill="#14e014" stroke="#000" stroke-width="1.35"/>
<circle cx="226.5" cy="84.5" r="3.6" fill="#14e014" stroke="#000" stroke-width="1.35"/>
<circle cx="231.9" cy="82.7" r="3.6" fill="#14e014" stroke="#000" stroke-width="1.35"/>
<circle cx="231.9" cy="86.8" r="3.6" fill="#14e014" stroke="#000" stroke-width="1.35"/>
<circle cx="229.0" cy="85.7" r="3.6" fill="#14e014" stroke="#000" stroke-width="1.35"/>
<circle cx="236.0" cy="90.8" r="3.6" fill="#14e014" stroke="#000" stroke-width="1.35"/>
<circle cx="239.3" cy="98.2" r="3.6" fill="#14e014" stroke="#000" stroke-width="1.35"/>
<circle cx="228.4" cy="70.1" r="3.6" fill="#14e014" stroke="#000" stroke-width="1.35"/>
<circle cx="235.8" cy="85.0" r="3.6" fill="#14e014" stroke="#000" stroke-width="1.35"/>
<circle cx="236.5" cy="91.1" r="3.6" fill="#14e014" stroke="#000" stroke-width="1.35"/>
<circle cx="240.9" cy="98.0" r="3.6" fill="#14e014" stroke="#000" stroke-width="1.35"/>
<circle cx="277.8" cy="129.0" r="3.6" fill="#14e014" stroke="#000" stroke-width="1.35"/>
<circle cx="327.5" cy="220.5" r="3.6" fill="#14e014" stroke="#000" stroke-width="1.35"/>
<path d="M139.0 81.3H147.0L143.0 86.8Z" fill="#14e014" stroke="#000" stroke-width="1.4" stroke-linejoin="round"/>
<path d="M143.0 85.3H151.0L147.0 90.8Z" fill="#14e014" stroke="#000" stroke-width="1.4" stroke-linejoin="round"/>
<path d="M140.5 86.8H148.5L144.5 92.3Z" fill="#14e014" stroke="#000" stroke-width="1.4" stroke-linejoin="round"/>
<path d="M142.5 79.8H150.5L146.5 85.3Z" fill="#14e014" stroke="#000" stroke-width="1.4" stroke-linejoin="round"/>
<path d="M140.9 94.8V106.8M138.5 94.8h4.8M138.5 106.8h4.8" stroke="#ec14ec" stroke-width="1.3" fill="none"/>
<path d="M139.8 109.2V121.2M137.4 109.2h4.8M137.4 121.2h4.8" stroke="#ec14ec" stroke-width="1.3" fill="none"/>
<path d="M138.0 128.1V140.1M135.6 128.1h4.8M135.6 140.1h4.8" stroke="#ec14ec" stroke-width="1.3" fill="none"/>
<path d="M136.6 157.0V169.0M134.2 157.0h4.8M134.2 169.0h4.8" stroke="#ec14ec" stroke-width="1.3" fill="none"/>
<path d="M149.3 75.0V87.0M146.9 75.0h4.8M146.9 87.0h4.8" stroke="#ec14ec" stroke-width="1.3" fill="none"/>
<path d="M152.7 82.5V94.5M150.3 82.5h4.8M150.3 94.5h4.8" stroke="#ec14ec" stroke-width="1.3" fill="none"/>
<path d="M169.6 57.5V69.5M167.2 57.5h4.8M167.2 69.5h4.8" stroke="#ec14ec" stroke-width="1.3" fill="none"/>
<path d="M175.0 61.6V73.6M172.6 61.6h4.8M172.6 73.6h4.8" stroke="#ec14ec" stroke-width="1.3" fill="none"/>
<path d="M175.0 70.4V82.4M172.6 70.4h4.8M172.6 82.4h4.8" stroke="#ec14ec" stroke-width="1.3" fill="none"/>
<path d="M175.0 77.1V89.1M172.6 77.1h4.8M172.6 89.1h4.8" stroke="#ec14ec" stroke-width="1.3" fill="none"/>
<path d="M178.4 52.8V64.8M176.0 52.8h4.8M176.0 64.8h4.8" stroke="#ec14ec" stroke-width="1.3" fill="none"/>
<path d="M183.0 69.0V81.0M180.6 69.0h4.8M180.6 81.0h4.8" stroke="#ec14ec" stroke-width="1.3" fill="none"/>
<path d="M168.5 59.0V71.0M166.1 59.0h4.8M166.1 71.0h4.8" stroke="#ec14ec" stroke-width="1.3" fill="none"/>
<path d="M169.2 62.4V74.4M166.8 62.4h4.8M166.8 74.4h4.8" stroke="#ec14ec" stroke-width="1.3" fill="none"/>
<path d="M186.4 58.0V70.0M184.0 58.0h4.8M184.0 70.0h4.8" stroke="#ec14ec" stroke-width="1.3" fill="none"/>
<path d="M184.7 69.4V81.4M182.3 69.4h4.8M182.3 81.4h4.8" stroke="#ec14ec" stroke-width="1.3" fill="none"/>
<path d="M195.3 63.5V75.5M192.9 63.5h4.8M192.9 75.5h4.8" stroke="#ec14ec" stroke-width="1.3" fill="none"/>
<path d="M169.7 56.7V68.7M167.3 56.7h4.8M167.3 68.7h4.8" stroke="#ec14ec" stroke-width="1.3" fill="none"/>
<path d="M186.0 57.9V69.9M183.6 57.9h4.8M183.6 69.9h4.8" stroke="#ec14ec" stroke-width="1.3" fill="none"/>
<path d="M174.2 66.3V78.3M171.8 66.3h4.8M171.8 78.3h4.8" stroke="#ec14ec" stroke-width="1.3" fill="none"/>
<path d="M187.2 25.2V37.2M184.8 25.2h4.8M184.8 37.2h4.8" stroke="#ec14ec" stroke-width="1.3" fill="none"/>
<path d="M194.7 63.2V75.2M192.3 63.2h4.8M192.3 75.2h4.8" stroke="#ec14ec" stroke-width="1.3" fill="none"/>
<path d="M249.9 90.2V102.2M247.5 90.2h4.8M247.5 102.2h4.8" stroke="#ec14ec" stroke-width="1.3" fill="none"/>
<path d="M249.8 102.7V114.7M247.4 102.7h4.8M247.4 114.7h4.8" stroke="#ec14ec" stroke-width="1.3" fill="none"/>
<path d="M254.4 105.5V117.5M252.0 105.5h4.8M252.0 117.5h4.8" stroke="#ec14ec" stroke-width="1.3" fill="none"/>
<path d="M260.7 108.2V120.2M258.3 108.2h4.8M258.3 120.2h4.8" stroke="#ec14ec" stroke-width="1.3" fill="none"/>
<path d="M256.6 116.5V128.5M254.2 116.5h4.8M254.2 128.5h4.8" stroke="#ec14ec" stroke-width="1.3" fill="none"/>
<path d="M248.1 112.7V124.7M245.7 112.7h4.8M245.7 124.7h4.8" stroke="#ec14ec" stroke-width="1.3" fill="none"/>
<path d="M253.5 114.5V126.5M251.1 114.5h4.8M251.1 126.5h4.8" stroke="#ec14ec" stroke-width="1.3" fill="none"/>
<path d="M262.5 113.6V125.6M260.1 113.6h4.8M260.1 125.6h4.8" stroke="#ec14ec" stroke-width="1.3" fill="none"/>
<path d="M269.7 113.6V125.6M267.3 113.6h4.8M267.3 125.6h4.8" stroke="#ec14ec" stroke-width="1.3" fill="none"/>
<path d="M271.5 117.2V129.2M269.1 117.2h4.8M269.1 129.2h4.8" stroke="#ec14ec" stroke-width="1.3" fill="none"/>
<path d="M258.0 118.1V130.1M255.6 118.1h4.8M255.6 130.1h4.8" stroke="#ec14ec" stroke-width="1.3" fill="none"/>
<path d="M263.4 121.7V133.7M261.0 121.7h4.8M261.0 133.7h4.8" stroke="#ec14ec" stroke-width="1.3" fill="none"/>
<path d="M266.1 125.4V137.4M263.7 125.4h4.8M263.7 137.4h4.8" stroke="#ec14ec" stroke-width="1.3" fill="none"/>
<path d="M264.3 128.0V140.0M261.9 128.0h4.8M261.9 140.0h4.8" stroke="#ec14ec" stroke-width="1.3" fill="none"/>
<circle cx="140.9" cy="100.8" r="3.6" fill="#ec14ec" stroke="#000" stroke-width="1.35"/>
<circle cx="139.8" cy="115.2" r="3.6" fill="#ec14ec" stroke="#000" stroke-width="1.35"/>
<circle cx="138.0" cy="134.1" r="3.6" fill="#ec14ec" stroke="#000" stroke-width="1.35"/>
<circle cx="136.6" cy="163.0" r="3.6" fill="#ec14ec" stroke="#000" stroke-width="1.35"/>
<circle cx="149.3" cy="81.0" r="3.6" fill="#ec14ec" stroke="#000" stroke-width="1.35"/>
<circle cx="152.7" cy="88.5" r="3.6" fill="#ec14ec" stroke="#000" stroke-width="1.35"/>
<circle cx="169.6" cy="63.5" r="3.6" fill="#ec14ec" stroke="#000" stroke-width="1.35"/>
<circle cx="175.0" cy="67.6" r="3.6" fill="#ec14ec" stroke="#000" stroke-width="1.35"/>
<circle cx="175.0" cy="76.4" r="3.6" fill="#ec14ec" stroke="#000" stroke-width="1.35"/>
<circle cx="175.0" cy="83.1" r="3.6" fill="#ec14ec" stroke="#000" stroke-width="1.35"/>
<circle cx="178.4" cy="58.8" r="3.6" fill="#ec14ec" stroke="#000" stroke-width="1.35"/>
<circle cx="183.0" cy="75.0" r="3.6" fill="#ec14ec" stroke="#000" stroke-width="1.35"/>
<circle cx="168.5" cy="65.0" r="3.6" fill="#ec14ec" stroke="#000" stroke-width="1.35"/>
<circle cx="169.2" cy="68.4" r="3.6" fill="#ec14ec" stroke="#000" stroke-width="1.35"/>
<circle cx="186.4" cy="64.0" r="3.6" fill="#ec14ec" stroke="#000" stroke-width="1.35"/>
<circle cx="184.7" cy="75.4" r="3.6" fill="#ec14ec" stroke="#000" stroke-width="1.35"/>
<circle cx="195.3" cy="69.5" r="3.6" fill="#ec14ec" stroke="#000" stroke-width="1.35"/>
<circle cx="169.7" cy="62.7" r="3.6" fill="#ec14ec" stroke="#000" stroke-width="1.35"/>
<circle cx="186.0" cy="63.9" r="3.6" fill="#ec14ec" stroke="#000" stroke-width="1.35"/>
<circle cx="174.2" cy="72.3" r="3.6" fill="#ec14ec" stroke="#000" stroke-width="1.35"/>
<circle cx="187.2" cy="31.2" r="3.6" fill="#ec14ec" stroke="#000" stroke-width="1.35"/>
<circle cx="194.7" cy="69.2" r="3.6" fill="#ec14ec" stroke="#000" stroke-width="1.35"/>
<circle cx="249.9" cy="96.2" r="3.6" fill="#ec14ec" stroke="#000" stroke-width="1.35"/>
<circle cx="249.8" cy="108.7" r="3.6" fill="#ec14ec" stroke="#000" stroke-width="1.35"/>
<circle cx="254.4" cy="111.5" r="3.6" fill="#ec14ec" stroke="#000" stroke-width="1.35"/>
<circle cx="260.7" cy="114.2" r="3.6" fill="#ec14ec" stroke="#000" stroke-width="1.35"/>
<circle cx="256.6" cy="122.5" r="3.6" fill="#ec14ec" stroke="#000" stroke-width="1.35"/>
<circle cx="248.1" cy="118.7" r="3.6" fill="#ec14ec" stroke="#000" stroke-width="1.35"/>
<circle cx="253.5" cy="120.5" r="3.6" fill="#ec14ec" stroke="#000" stroke-width="1.35"/>
<circle cx="262.5" cy="119.6" r="3.6" fill="#ec14ec" stroke="#000" stroke-width="1.35"/>
<circle cx="269.7" cy="119.6" r="3.6" fill="#ec14ec" stroke="#000" stroke-width="1.35"/>
<circle cx="271.5" cy="123.2" r="3.6" fill="#ec14ec" stroke="#000" stroke-width="1.35"/>
<circle cx="258.0" cy="124.1" r="3.6" fill="#ec14ec" stroke="#000" stroke-width="1.35"/>
<circle cx="263.4" cy="127.7" r="3.6" fill="#ec14ec" stroke="#000" stroke-width="1.35"/>
<circle cx="266.1" cy="131.4" r="3.6" fill="#ec14ec" stroke="#000" stroke-width="1.35"/>
<circle cx="264.3" cy="134.0" r="3.6" fill="#ec14ec" stroke="#000" stroke-width="1.35"/>
<circle cx="145.0" cy="84.0" r="3.6" fill="#5a105a" stroke="#000" stroke-width="1.35"/>
<circle cx="143.5" cy="89.0" r="3.6" fill="#5a105a" stroke="#000" stroke-width="1.35"/>
<circle cx="147.5" cy="86.5" r="3.6" fill="#5a105a" stroke="#000" stroke-width="1.35"/>
<circle cx="166.5" cy="60.5" r="3.3" fill="#b020b0" stroke="#000" stroke-width="1.4"/>
<circle cx="168.4" cy="57.3" r="3.3" fill="#b020b0" stroke="#000" stroke-width="1.4"/>
<circle cx="170.3" cy="54.1" r="3.3" fill="#b020b0" stroke="#000" stroke-width="1.4"/>
<circle cx="172.2" cy="50.8" r="3.3" fill="#b020b0" stroke="#000" stroke-width="1.4"/>
<circle cx="174.1" cy="47.6" r="3.3" fill="#b020b0" stroke="#000" stroke-width="1.4"/>
<circle cx="175.9" cy="44.4" r="3.3" fill="#b020b0" stroke="#000" stroke-width="1.4"/>
<circle cx="177.8" cy="41.2" r="3.3" fill="#b020b0" stroke="#000" stroke-width="1.4"/>
<circle cx="179.7" cy="37.9" r="3.3" fill="#b020b0" stroke="#000" stroke-width="1.4"/>
<circle cx="181.6" cy="34.7" r="3.3" fill="#b020b0" stroke="#000" stroke-width="1.4"/>
<circle cx="183.5" cy="31.5" r="3.3" fill="#b020b0" stroke="#000" stroke-width="1.4"/>
<circle cx="328.5" cy="219.5" r="3.6" fill="none" stroke="#000" stroke-width="1.35"/>
<circle cx="111.9" cy="291.6" r="3.6" fill="none" stroke="#000" stroke-width="1.35"/>
<circle cx="111.9" cy="306.5" r="3.6" fill="none" stroke="#000" stroke-width="1.35"/>
<circle cx="116.2" cy="306.5" r="3.6" fill="none" stroke="#000" stroke-width="1.35"/>
<circle cx="374.0" cy="188.0" r="3.6" fill="none" stroke="#000" stroke-width="1.35"/>
<circle cx="394.2" cy="232.7" r="3.6" fill="none" stroke="#000" stroke-width="1.35"/>
<circle cx="399.6" cy="245.5" r="3.6" fill="none" stroke="#000" stroke-width="1.35"/>
<circle cx="423.9" cy="255.7" r="3.6" fill="none" stroke="#000" stroke-width="1.35"/>
<circle cx="440.3" cy="265.4" r="3.6" fill="none" stroke="#000" stroke-width="1.35"/>
<circle cx="456.5" cy="273.5" r="3.6" fill="none" stroke="#000" stroke-width="1.35"/>
<circle cx="462.6" cy="275.5" r="3.6" fill="none" stroke="#000" stroke-width="1.35"/>
<path d="M113.2 235.6V247.6M110.8 235.6h4.8M110.8 247.6h4.8" stroke="#f01c1c" stroke-width="1.3" fill="none"/>
<circle cx="113.2" cy="241.6" r="3.6" fill="none" stroke="#dc1414" stroke-width="1.4"/>
<path d="M174.5 11.4V23.4M172.1 11.4h4.8M172.1 23.4h4.8" stroke="#f01c1c" stroke-width="1.3" fill="none"/>
<circle cx="174.5" cy="17.4" r="3.6" fill="none" stroke="#dc1414" stroke-width="1.4"/>
<path d="M212.7 49.0V61.0M210.3 49.0h4.8M210.3 61.0h4.8" stroke="#f01c1c" stroke-width="1.3" fill="none"/>
<circle cx="212.7" cy="55.0" r="3.6" fill="none" stroke="#dc1414" stroke-width="1.4"/>
<path d="M224.5 52.4V64.4M222.1 52.4h4.8M222.1 64.4h4.8" stroke="#f01c1c" stroke-width="1.3" fill="none"/>
<circle cx="224.5" cy="58.4" r="3.6" fill="none" stroke="#dc1414" stroke-width="1.4"/>
<path d="M211.4 57.1V69.1M209.0 57.1h4.8M209.0 69.1h4.8" stroke="#f01c1c" stroke-width="1.3" fill="none"/>
<circle cx="211.4" cy="63.1" r="3.6" fill="none" stroke="#dc1414" stroke-width="1.4"/>
<path d="M224.5 63.2V75.2M222.1 63.2h4.8M222.1 75.2h4.8" stroke="#f01c1c" stroke-width="1.3" fill="none"/>
<circle cx="224.5" cy="69.2" r="3.6" fill="none" stroke="#dc1414" stroke-width="1.4"/>
<path d="M228.4 64.1V76.1M226.0 64.1h4.8M226.0 76.1h4.8" stroke="#f01c1c" stroke-width="1.3" fill="none"/>
<circle cx="228.4" cy="70.1" r="3.6" fill="none" stroke="#dc1414" stroke-width="1.4"/>
<path d="M255.3 99.2V111.2M252.9 99.2h4.8M252.9 111.2h4.8" stroke="#f01c1c" stroke-width="1.3" fill="none"/>
<circle cx="255.3" cy="105.2" r="3.6" fill="none" stroke="#dc1414" stroke-width="1.4"/>
<path d="M248.1 108.2V120.2M245.7 108.2h4.8M245.7 120.2h4.8" stroke="#f01c1c" stroke-width="1.3" fill="none"/>
<circle cx="248.1" cy="114.2" r="3.6" fill="none" stroke="#dc1414" stroke-width="1.4"/>
<path d="M291.4 129.9V141.9M289.0 129.9h4.8M289.0 141.9h4.8" stroke="#f01c1c" stroke-width="1.3" fill="none"/>
<circle cx="291.4" cy="135.9" r="3.6" fill="none" stroke="#dc1414" stroke-width="1.4"/>
<path d="M291.4 139.8V151.8M289.0 139.8h4.8M289.0 151.8h4.8" stroke="#f01c1c" stroke-width="1.3" fill="none"/>
<circle cx="291.4" cy="145.8" r="3.6" fill="none" stroke="#dc1414" stroke-width="1.4"/>
<path d="M289.0 135.0V147.0M286.6 135.0h4.8M286.6 147.0h4.8" stroke="#f01c1c" stroke-width="1.3" fill="none"/>
<circle cx="289.0" cy="141.0" r="3.6" fill="none" stroke="#dc1414" stroke-width="1.4"/>
<path d="M329.8 210.0V222.0M327.4 210.0h4.8M327.4 222.0h4.8" stroke="#f01c1c" stroke-width="1.3" fill="none"/>
<circle cx="329.8" cy="216.0" r="3.6" fill="none" stroke="#dc1414" stroke-width="1.4"/>
<path d="M328.0 216.3V228.3M325.6 216.3h4.8M325.6 228.3h4.8" stroke="#f01c1c" stroke-width="1.3" fill="none"/>
<circle cx="328.0" cy="222.3" r="3.6" fill="none" stroke="#dc1414" stroke-width="1.4"/>
<path d="M372.2 183.5V195.5M369.8 183.5h4.8M369.8 195.5h4.8" stroke="#f01c1c" stroke-width="1.3" fill="none"/>
<circle cx="372.2" cy="189.5" r="3.6" fill="none" stroke="#dc1414" stroke-width="1.4"/>
<path d="M369.9 211.2V223.2M367.5 211.2h4.8M367.5 223.2h4.8" stroke="#f01c1c" stroke-width="1.3" fill="none"/>
<circle cx="369.9" cy="217.2" r="3.6" fill="none" stroke="#dc1414" stroke-width="1.4"/>
<path d="M371.2 216.6V228.6M368.8 216.6h4.8M368.8 228.6h4.8" stroke="#f01c1c" stroke-width="1.3" fill="none"/>
<circle cx="371.2" cy="222.6" r="3.6" fill="none" stroke="#dc1414" stroke-width="1.4"/>
<path d="M374.6 219.3V231.3M372.2 219.3h4.8M372.2 231.3h4.8" stroke="#f01c1c" stroke-width="1.3" fill="none"/>
<circle cx="374.6" cy="225.3" r="3.6" fill="none" stroke="#dc1414" stroke-width="1.4"/>
<path d="M378.6 222.0V234.0M376.2 222.0h4.8M376.2 234.0h4.8" stroke="#f01c1c" stroke-width="1.3" fill="none"/>
<circle cx="378.6" cy="228.0" r="3.6" fill="none" stroke="#dc1414" stroke-width="1.4"/>
<path d="M380.7 222.6V234.6M378.3 222.6h4.8M378.3 234.6h4.8" stroke="#f01c1c" stroke-width="1.3" fill="none"/>
<circle cx="380.7" cy="228.6" r="3.6" fill="none" stroke="#dc1414" stroke-width="1.4"/>
<path d="M377.3 228.0V240.0M374.9 228.0h4.8M374.9 240.0h4.8" stroke="#f01c1c" stroke-width="1.3" fill="none"/>
<circle cx="377.3" cy="234.0" r="3.6" fill="none" stroke="#dc1414" stroke-width="1.4"/>
<path d="M391.5 228.7V240.7M389.1 228.7h4.8M389.1 240.7h4.8" stroke="#f01c1c" stroke-width="1.3" fill="none"/>
<circle cx="391.5" cy="234.7" r="3.6" fill="none" stroke="#dc1414" stroke-width="1.4"/>
<path d="M390.1 233.5V245.5M387.7 233.5h4.8M387.7 245.5h4.8" stroke="#f01c1c" stroke-width="1.3" fill="none"/>
<circle cx="390.1" cy="239.5" r="3.6" fill="none" stroke="#dc1414" stroke-width="1.4"/>
<path d="M399.6 238.2V250.2M397.2 238.2h4.8M397.2 250.2h4.8" stroke="#f01c1c" stroke-width="1.3" fill="none"/>
<circle cx="399.6" cy="244.2" r="3.6" fill="none" stroke="#dc1414" stroke-width="1.4"/>
<path d="M403.0 234.8V246.8M400.6 234.8h4.8M400.6 246.8h4.8" stroke="#f01c1c" stroke-width="1.3" fill="none"/>
<circle cx="403.0" cy="240.8" r="3.6" fill="none" stroke="#dc1414" stroke-width="1.4"/>
<path d="M405.0 236.2V248.2M402.6 236.2h4.8M402.6 248.2h4.8" stroke="#f01c1c" stroke-width="1.3" fill="none"/>
<circle cx="405.0" cy="242.2" r="3.6" fill="none" stroke="#dc1414" stroke-width="1.4"/>
<path d="M409.7 242.2V254.2M407.3 242.2h4.8M407.3 254.2h4.8" stroke="#f01c1c" stroke-width="1.3" fill="none"/>
<circle cx="409.7" cy="248.2" r="3.6" fill="none" stroke="#dc1414" stroke-width="1.4"/>
<path d="M417.8 235.5V247.5M415.4 235.5h4.8M415.4 247.5h4.8" stroke="#f01c1c" stroke-width="1.3" fill="none"/>
<circle cx="417.8" cy="241.5" r="3.6" fill="none" stroke="#dc1414" stroke-width="1.4"/>
<path d="M417.8 240.9V252.9M415.4 240.9h4.8M415.4 252.9h4.8" stroke="#f01c1c" stroke-width="1.3" fill="none"/>
<circle cx="417.8" cy="246.9" r="3.6" fill="none" stroke="#dc1414" stroke-width="1.4"/>
<path d="M422.6 252.4V264.4M420.2 252.4h4.8M420.2 264.4h4.8" stroke="#f01c1c" stroke-width="1.3" fill="none"/>
<circle cx="422.6" cy="258.4" r="3.6" fill="none" stroke="#dc1414" stroke-width="1.4"/>
<path d="M367.0 213.0V225.0M364.6 213.0h4.8M364.6 225.0h4.8" stroke="#f01c1c" stroke-width="1.3" fill="none"/>
<circle cx="367.0" cy="219.0" r="3.6" fill="none" stroke="#dc1414" stroke-width="1.4"/>
<path d="M373.0 217.5V229.5M370.6 217.5h4.8M370.6 229.5h4.8" stroke="#f01c1c" stroke-width="1.3" fill="none"/>
<circle cx="373.0" cy="223.5" r="3.6" fill="none" stroke="#dc1414" stroke-width="1.4"/>
<path d="M376.5 220.5V232.5M374.1 220.5h4.8M374.1 232.5h4.8" stroke="#f01c1c" stroke-width="1.3" fill="none"/>
<circle cx="376.5" cy="226.5" r="3.6" fill="none" stroke="#dc1414" stroke-width="1.4"/>
<path d="M382.0 224.5V236.5M379.6 224.5h4.8M379.6 236.5h4.8" stroke="#f01c1c" stroke-width="1.3" fill="none"/>
<circle cx="382.0" cy="230.5" r="3.6" fill="none" stroke="#dc1414" stroke-width="1.4"/>
<path d="M386.0 227.0V239.0M383.6 227.0h4.8M383.6 239.0h4.8" stroke="#f01c1c" stroke-width="1.3" fill="none"/>
<circle cx="386.0" cy="233.0" r="3.6" fill="none" stroke="#dc1414" stroke-width="1.4"/>
<path d="M392.0 235.5V247.5M389.6 235.5h4.8M389.6 247.5h4.8" stroke="#f01c1c" stroke-width="1.3" fill="none"/>
<circle cx="392.0" cy="241.5" r="3.6" fill="none" stroke="#dc1414" stroke-width="1.4"/>
<path d="M398.0 237.0V249.0M395.6 237.0h4.8M395.6 249.0h4.8" stroke="#f01c1c" stroke-width="1.3" fill="none"/>
<circle cx="398.0" cy="243.0" r="3.6" fill="none" stroke="#dc1414" stroke-width="1.4"/>
<path d="M404.0 240.5V252.5M401.6 240.5h4.8M401.6 252.5h4.8" stroke="#f01c1c" stroke-width="1.3" fill="none"/>
<circle cx="404.0" cy="246.5" r="3.6" fill="none" stroke="#dc1414" stroke-width="1.4"/>
<path d="M431.2 262.4V274.4M428.8 262.4h4.8M428.8 274.4h4.8" stroke="#f01c1c" stroke-width="1.3" fill="none"/>
<circle cx="431.2" cy="268.4" r="3.6" fill="none" stroke="#dc1414" stroke-width="1.4"/>
<path d="M439.3 262.4V274.4M436.9 262.4h4.8M436.9 274.4h4.8" stroke="#f01c1c" stroke-width="1.3" fill="none"/>
<circle cx="439.3" cy="268.4" r="3.6" fill="none" stroke="#dc1414" stroke-width="1.4"/>
<path d="M442.3 264.4V276.4M439.9 264.4h4.8M439.9 276.4h4.8" stroke="#f01c1c" stroke-width="1.3" fill="none"/>
<circle cx="442.3" cy="270.4" r="3.6" fill="none" stroke="#dc1414" stroke-width="1.4"/>
<path d="M449.4 272.5V284.5M447.0 272.5h4.8M447.0 284.5h4.8" stroke="#f01c1c" stroke-width="1.3" fill="none"/>
<circle cx="449.4" cy="278.5" r="3.6" fill="none" stroke="#dc1414" stroke-width="1.4"/>
<path d="M454.5 271.5V283.5M452.1 271.5h4.8M452.1 283.5h4.8" stroke="#f01c1c" stroke-width="1.3" fill="none"/>
<circle cx="454.5" cy="277.5" r="3.6" fill="none" stroke="#dc1414" stroke-width="1.4"/>
<path d="M461.6 270.5V282.5M459.2 270.5h4.8M459.2 282.5h4.8" stroke="#f01c1c" stroke-width="1.3" fill="none"/>
<circle cx="461.6" cy="276.5" r="3.6" fill="none" stroke="#dc1414" stroke-width="1.4"/>
<path d="M468.1 282.3V294.3M465.7 282.3h4.8M465.7 294.3h4.8" stroke="#f01c1c" stroke-width="1.3" fill="none"/>
<circle cx="468.1" cy="288.3" r="3.6" fill="none" stroke="#dc1414" stroke-width="1.4"/>
<polyline points="134.0,373.0 134.6,330.0 135.2,270.0 135.8,230.0 136.6,190.0 137.4,150.0 138.3,128.0 139.2,110.0 139.8,100.0 141.0,86.0 147.0,79.0" fill="none" stroke="#000" stroke-width="2.0" stroke-linejoin="miter" />
<polyline points="198.5,71.5 206.0,76.5 222.0,84.0 231.0,93.5 244.0,105.0" fill="none" stroke="#000" stroke-width="2.6" stroke-linejoin="miter" />
<polyline points="366.0,221.5 406.0,249.0" fill="none" stroke="#000" stroke-width="2.3" stroke-linejoin="miter" />
<circle cx="405.2" cy="30.0" r="3.6" fill="#fff" stroke="#000" stroke-width="1.3"/>
<circle cx="405.2" cy="49.4" r="3.6" fill="#2ae8f0" stroke="#000" stroke-width="1.3"/>
<path d="M401.3 66.8H409.1L405.2 72.1Z" fill="#14e014" stroke="#000" stroke-width="1.1" stroke-linejoin="round"/>
<circle cx="405.2" cy="87.8" r="3.6" fill="#14e014" stroke="#000" stroke-width="1.3"/>
<circle cx="405.2" cy="107.0" r="3.6" fill="#fff" stroke="#dc1414" stroke-width="1.2"/>
<path d="M401.3 124.4H409.1L405.2 129.7Z" fill="#fff" stroke="#ec14ec" stroke-width="1.1" stroke-linejoin="round"/>
<circle cx="405.2" cy="145.4" r="3.6" fill="#ec14ec" stroke="#000" stroke-width="1.3"/>
<path d="M404.0 165.5h3.0M405.5 164.0v3.0" stroke="#aaa" stroke-width="1.0"/>
<text x="430.2" y="35.2" class="lg">1890 <tspan font-style="italic">B</tspan></text>
<text x="430.2" y="54.6" class="lg">1902 <tspan font-style="italic">B</tspan></text>
<text x="430.2" y="73.8" class="lg">1920 <tspan font-style="italic">V</tspan></text>
<text x="430.2" y="93.0" class="lg">1920 <tspan font-style="italic">B</tspan></text>
<text x="430.2" y="112.2" class="lg">1944 <tspan font-style="italic">B</tspan></text>
<text x="430.2" y="131.4" class="lg">1967 <tspan font-style="italic">V</tspan></text>
<text x="430.2" y="150.6" class="lg">1967 <tspan font-style="italic">B</tspan></text>
<text x="430.2" y="169.8" class="lg">2011 SMEI</text>
<line x1="387" y1="183.8" x2="422.7" y2="183.8" stroke="#0c0cc8" stroke-width="2.2"/>
<line x1="387" y1="203" x2="422.7" y2="203" stroke="#30e030" stroke-width="2.2"/>
<text x="430.2" y="188.8" class="lg" style="letter-spacing:0.44px">Eruption template for <tspan font-style="italic">B</tspan></text>
<text x="430.2" y="208.1" class="lg" style="letter-spacing:0.44px">Eruption template for <tspan font-style="italic">V</tspan></text>
<rect x="53.5" y="6.4" width="536.5" height="385.6" fill="none" stroke="#000" stroke-width="1.9"/>
<line x1="53.50" y1="392.0" x2="53.50" y2="386.0" stroke="#000" stroke-width="1.6"/>
<line x1="53.50" y1="6.4" x2="53.50" y2="12.4" stroke="#000" stroke-width="1.6"/>
<line x1="80.33" y1="392.0" x2="80.33" y2="388.0" stroke="#000" stroke-width="1.6"/>
<line x1="80.33" y1="6.4" x2="80.33" y2="10.4" stroke="#000" stroke-width="1.6"/>
<line x1="107.15" y1="392.0" x2="107.15" y2="388.0" stroke="#000" stroke-width="1.6"/>
<line x1="107.15" y1="6.4" x2="107.15" y2="10.4" stroke="#000" stroke-width="1.6"/>
<line x1="133.97" y1="392.0" x2="133.97" y2="388.0" stroke="#000" stroke-width="1.6"/>
<line x1="133.97" y1="6.4" x2="133.97" y2="10.4" stroke="#000" stroke-width="1.6"/>
<line x1="160.80" y1="392.0" x2="160.80" y2="388.0" stroke="#000" stroke-width="1.6"/>
<line x1="160.80" y1="6.4" x2="160.80" y2="10.4" stroke="#000" stroke-width="1.6"/>
<line x1="187.62" y1="392.0" x2="187.62" y2="386.0" stroke="#000" stroke-width="1.6"/>
<line x1="187.62" y1="6.4" x2="187.62" y2="12.4" stroke="#000" stroke-width="1.6"/>
<line x1="214.45" y1="392.0" x2="214.45" y2="388.0" stroke="#000" stroke-width="1.6"/>
<line x1="214.45" y1="6.4" x2="214.45" y2="10.4" stroke="#000" stroke-width="1.6"/>
<line x1="241.28" y1="392.0" x2="241.28" y2="388.0" stroke="#000" stroke-width="1.6"/>
<line x1="241.28" y1="6.4" x2="241.28" y2="10.4" stroke="#000" stroke-width="1.6"/>
<line x1="268.10" y1="392.0" x2="268.10" y2="388.0" stroke="#000" stroke-width="1.6"/>
<line x1="268.10" y1="6.4" x2="268.10" y2="10.4" stroke="#000" stroke-width="1.6"/>
<line x1="294.93" y1="392.0" x2="294.93" y2="388.0" stroke="#000" stroke-width="1.6"/>
<line x1="294.93" y1="6.4" x2="294.93" y2="10.4" stroke="#000" stroke-width="1.6"/>
<line x1="321.75" y1="392.0" x2="321.75" y2="386.0" stroke="#000" stroke-width="1.6"/>
<line x1="321.75" y1="6.4" x2="321.75" y2="12.4" stroke="#000" stroke-width="1.6"/>
<line x1="348.57" y1="392.0" x2="348.57" y2="388.0" stroke="#000" stroke-width="1.6"/>
<line x1="348.57" y1="6.4" x2="348.57" y2="10.4" stroke="#000" stroke-width="1.6"/>
<line x1="375.40" y1="392.0" x2="375.40" y2="388.0" stroke="#000" stroke-width="1.6"/>
<line x1="375.40" y1="6.4" x2="375.40" y2="10.4" stroke="#000" stroke-width="1.6"/>
<line x1="402.23" y1="392.0" x2="402.23" y2="388.0" stroke="#000" stroke-width="1.6"/>
<line x1="402.23" y1="6.4" x2="402.23" y2="10.4" stroke="#000" stroke-width="1.6"/>
<line x1="429.05" y1="392.0" x2="429.05" y2="388.0" stroke="#000" stroke-width="1.6"/>
<line x1="429.05" y1="6.4" x2="429.05" y2="10.4" stroke="#000" stroke-width="1.6"/>
<line x1="455.88" y1="392.0" x2="455.88" y2="386.0" stroke="#000" stroke-width="1.6"/>
<line x1="455.88" y1="6.4" x2="455.88" y2="12.4" stroke="#000" stroke-width="1.6"/>
<line x1="482.70" y1="392.0" x2="482.70" y2="388.0" stroke="#000" stroke-width="1.6"/>
<line x1="482.70" y1="6.4" x2="482.70" y2="10.4" stroke="#000" stroke-width="1.6"/>
<line x1="509.52" y1="392.0" x2="509.52" y2="388.0" stroke="#000" stroke-width="1.6"/>
<line x1="509.52" y1="6.4" x2="509.52" y2="10.4" stroke="#000" stroke-width="1.6"/>
<line x1="536.35" y1="392.0" x2="536.35" y2="388.0" stroke="#000" stroke-width="1.6"/>
<line x1="536.35" y1="6.4" x2="536.35" y2="10.4" stroke="#000" stroke-width="1.6"/>
<line x1="563.17" y1="392.0" x2="563.17" y2="388.0" stroke="#000" stroke-width="1.6"/>
<line x1="563.17" y1="6.4" x2="563.17" y2="10.4" stroke="#000" stroke-width="1.6"/>
<line x1="590.00" y1="392.0" x2="590.00" y2="386.0" stroke="#000" stroke-width="1.6"/>
<line x1="590.00" y1="6.4" x2="590.00" y2="12.4" stroke="#000" stroke-width="1.6"/>
<line x1="53.5" y1="6.40" x2="59.5" y2="6.40" stroke="#000" stroke-width="1.6"/>
<line x1="590.0" y1="6.40" x2="584.0" y2="6.40" stroke="#000" stroke-width="1.6"/>
<line x1="53.5" y1="21.82" x2="57.5" y2="21.82" stroke="#000" stroke-width="1.6"/>
<line x1="590.0" y1="21.82" x2="586.0" y2="21.82" stroke="#000" stroke-width="1.6"/>
<line x1="53.5" y1="37.25" x2="57.5" y2="37.25" stroke="#000" stroke-width="1.6"/>
<line x1="590.0" y1="37.25" x2="586.0" y2="37.25" stroke="#000" stroke-width="1.6"/>
<line x1="53.5" y1="52.67" x2="57.5" y2="52.67" stroke="#000" stroke-width="1.6"/>
<line x1="590.0" y1="52.67" x2="586.0" y2="52.67" stroke="#000" stroke-width="1.6"/>
<line x1="53.5" y1="68.10" x2="57.5" y2="68.10" stroke="#000" stroke-width="1.6"/>
<line x1="590.0" y1="68.10" x2="586.0" y2="68.10" stroke="#000" stroke-width="1.6"/>
<line x1="53.5" y1="83.52" x2="59.5" y2="83.52" stroke="#000" stroke-width="1.6"/>
<line x1="590.0" y1="83.52" x2="584.0" y2="83.52" stroke="#000" stroke-width="1.6"/>
<line x1="53.5" y1="98.94" x2="57.5" y2="98.94" stroke="#000" stroke-width="1.6"/>
<line x1="590.0" y1="98.94" x2="586.0" y2="98.94" stroke="#000" stroke-width="1.6"/>
<line x1="53.5" y1="114.37" x2="57.5" y2="114.37" stroke="#000" stroke-width="1.6"/>
<line x1="590.0" y1="114.37" x2="586.0" y2="114.37" stroke="#000" stroke-width="1.6"/>
<line x1="53.5" y1="129.79" x2="57.5" y2="129.79" stroke="#000" stroke-width="1.6"/>
<line x1="590.0" y1="129.79" x2="586.0" y2="129.79" stroke="#000" stroke-width="1.6"/>
<line x1="53.5" y1="145.22" x2="57.5" y2="145.22" stroke="#000" stroke-width="1.6"/>
<line x1="590.0" y1="145.22" x2="586.0" y2="145.22" stroke="#000" stroke-width="1.6"/>
<line x1="53.5" y1="160.64" x2="59.5" y2="160.64" stroke="#000" stroke-width="1.6"/>
<line x1="590.0" y1="160.64" x2="584.0" y2="160.64" stroke="#000" stroke-width="1.6"/>
<line x1="53.5" y1="176.06" x2="57.5" y2="176.06" stroke="#000" stroke-width="1.6"/>
<line x1="590.0" y1="176.06" x2="586.0" y2="176.06" stroke="#000" stroke-width="1.6"/>
<line x1="53.5" y1="191.49" x2="57.5" y2="191.49" stroke="#000" stroke-width="1.6"/>
<line x1="590.0" y1="191.49" x2="586.0" y2="191.49" stroke="#000" stroke-width="1.6"/>
<line x1="53.5" y1="206.91" x2="57.5" y2="206.91" stroke="#000" stroke-width="1.6"/>
<line x1="590.0" y1="206.91" x2="586.0" y2="206.91" stroke="#000" stroke-width="1.6"/>
<line x1="53.5" y1="222.34" x2="57.5" y2="222.34" stroke="#000" stroke-width="1.6"/>
<line x1="590.0" y1="222.34" x2="586.0" y2="222.34" stroke="#000" stroke-width="1.6"/>
<line x1="53.5" y1="237.76" x2="59.5" y2="237.76" stroke="#000" stroke-width="1.6"/>
<line x1="590.0" y1="237.76" x2="584.0" y2="237.76" stroke="#000" stroke-width="1.6"/>
<line x1="53.5" y1="253.18" x2="57.5" y2="253.18" stroke="#000" stroke-width="1.6"/>
<line x1="590.0" y1="253.18" x2="586.0" y2="253.18" stroke="#000" stroke-width="1.6"/>
<line x1="53.5" y1="268.61" x2="57.5" y2="268.61" stroke="#000" stroke-width="1.6"/>
<line x1="590.0" y1="268.61" x2="586.0" y2="268.61" stroke="#000" stroke-width="1.6"/>
<line x1="53.5" y1="284.03" x2="57.5" y2="284.03" stroke="#000" stroke-width="1.6"/>
<line x1="590.0" y1="284.03" x2="586.0" y2="284.03" stroke="#000" stroke-width="1.6"/>
<line x1="53.5" y1="299.46" x2="57.5" y2="299.46" stroke="#000" stroke-width="1.6"/>
<line x1="590.0" y1="299.46" x2="586.0" y2="299.46" stroke="#000" stroke-width="1.6"/>
<line x1="53.5" y1="314.88" x2="59.5" y2="314.88" stroke="#000" stroke-width="1.6"/>
<line x1="590.0" y1="314.88" x2="584.0" y2="314.88" stroke="#000" stroke-width="1.6"/>
<line x1="53.5" y1="330.30" x2="57.5" y2="330.30" stroke="#000" stroke-width="1.6"/>
<line x1="590.0" y1="330.30" x2="586.0" y2="330.30" stroke="#000" stroke-width="1.6"/>
<line x1="53.5" y1="345.73" x2="57.5" y2="345.73" stroke="#000" stroke-width="1.6"/>
<line x1="590.0" y1="345.73" x2="586.0" y2="345.73" stroke="#000" stroke-width="1.6"/>
<line x1="53.5" y1="361.15" x2="57.5" y2="361.15" stroke="#000" stroke-width="1.6"/>
<line x1="590.0" y1="361.15" x2="586.0" y2="361.15" stroke="#000" stroke-width="1.6"/>
<line x1="53.5" y1="376.58" x2="57.5" y2="376.58" stroke="#000" stroke-width="1.6"/>
<line x1="590.0" y1="376.58" x2="586.0" y2="376.58" stroke="#000" stroke-width="1.6"/>
<line x1="53.5" y1="392.00" x2="59.5" y2="392.00" stroke="#000" stroke-width="1.6"/>
<line x1="590.0" y1="392.00" x2="584.0" y2="392.00" stroke="#000" stroke-width="1.6"/>
<text x="46.2" y="11.7" text-anchor="end" class="t">6</text>
<text x="46.2" y="88.8" text-anchor="end" class="t">8</text>
<text x="46.2" y="165.9" text-anchor="end" class="t">10</text>
<text x="46.2" y="243.1" text-anchor="end" class="t">12</text>
<text x="46.2" y="320.2" text-anchor="end" class="t">14</text>
<text x="46.2" y="397.3" text-anchor="end" class="t">16</text>
<text x="53.5" y="413.8" text-anchor="middle" class="t">-100</text>
<text x="187.6" y="413.8" text-anchor="middle" class="t">0</text>
<text x="321.8" y="413.8" text-anchor="middle" class="t">100</text>
<text x="455.9" y="413.8" text-anchor="middle" class="t">200</text>
<text x="590.0" y="413.8" text-anchor="middle" class="t">300</text>
<text x="237.6" y="438.2" class="ax" style="letter-spacing:0.7px">T - T</text>
<text x="275.3" y="444.4" class="ax" style="font-size:12.2px">visual maximum</text>
<text x="361" y="438.2" class="ax" style="letter-spacing:0.7px">(days)</text>
<text transform="translate(11.8,239.6) rotate(-90)" class="ax" style="font-size:16px" textLength="80.5" lengthAdjust="spacing">Magnitude</text>
</svg></body></html>
